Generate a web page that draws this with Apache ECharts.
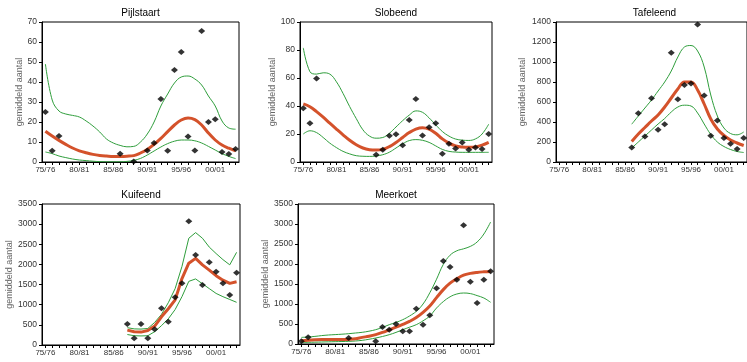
<!DOCTYPE html>
<html>
<head>
<meta charset="utf-8">
<script src="https://cdn.jsdelivr.net/npm/echarts@6/dist/echarts.min.js"></script>
<style>
html,body{margin:0;padding:0;background:#fff;}
#c{width:747px;height:362px;}
</style>
</head>
<body>
<div id="c"></div>
<script>
// ---- categories (winter seasons) ----
const seasons = ['75/76','76/77','77/78','78/79','79/80','80/81','81/82','82/83','83/84','84/85',
  '85/86','86/87','87/88','88/89','89/90','90/91','91/92','92/93','93/94','94/95',
  '95/96','96/97','97/98','98/99','99/00','00/01','01/02','02/03','03/04'];

// ---- Pijlstaart ----
const pijlObs   = [25,5.6,13,null,null,null,null,null,null,null,null,4.1,null,0.3,null,5.8,9.5,31.5,5.6,46,55,12.8,5.8,65.5,20,21.4,5,4,6.5];
const pijlTrend = [15.4,13,10.8,8.8,7,5.6,4.6,3.8,3.3,3,2.8,2.8,2.9,3.2,4.5,6.3,8.8,11.8,15.2,18.5,21,22,21.2,18.5,14.5,11,8.5,6.9,5.6];
const pijlUpper = [49,31,25.5,24,23.3,22.5,20.5,18,15,11.5,9.5,8.3,7.6,7.8,10,14,20,28,34,39.5,42.5,43,41.5,38.5,33,28,20.5,17,16.4];
const pijlLower = [5,4.2,3,2.2,1.5,1,0.7,0.4,0.2,0.1,0.1,0.1,0.3,0.8,1.8,3.5,5.5,7.5,9.2,10.4,11,11,10.6,9.5,7.8,6,4.2,2.8,1.7];

// ---- Slobeend ----
const slobObs   = [38.4,27.7,59.7,null,null,null,null,null,null,null,null,5.2,8.8,18.7,19.9,12,30,45,19,24.9,27.7,5.9,13,9.7,14,8.8,10.4,9.2,20];
const slobTrend = [41.5,39.5,36,32,27.7,23.5,19.4,15.5,12.3,10,8.8,8.5,9,11,14,17.5,21,23.5,24.5,23.5,20.5,16.5,13.5,11.5,10.7,10.5,10.8,12,14];
const slobUpper = [81.5,64.5,62.8,63.7,62.8,57.3,49,39.6,31,23,18.5,17,17.5,20.5,25,29.5,33.5,36.5,35.5,31.5,26.5,21.8,18.5,16.4,15.6,15.4,16.5,20,27];
const slobLower = [20,22.3,21,17.5,13.5,10.3,7.6,5.8,4.5,4.1,4,4.3,5.2,7,10,13,15.3,16,15.5,14,11.5,9,7.6,7.1,6.9,6.9,6.9,6.9,6.9];

// ---- Tafeleend ----
const N11 = [null,null,null,null,null,null,null,null,null,null,null];
const tafObs   = N11.concat([146,488,255,637,322,378,1092,627,770,786,1374,664,262,415,239,182,129,240]);
const tafTrend = N11.concat([205,280,345,410,470,550,640,730,800,800,720,580,430,330,265,220,190,165]);
const tafUpper = N11.concat([378,460,540,620,710,800,910,1050,1150,1165,1110,950,670,460,340,285,272,300]);
const tafLower = N11.concat([140,200,260,320,380,435,500,550,568,560,490,380,275,200,155,125,105,95]);

// ---- Kuifeend ----
const N12 = [null,null,null,null,null,null,null,null,null,null,null,null];
const kuifObs   = N12.concat([521,166,521,166,390,911,578,1184,1531,3070,2234,1489,2053,1819,1531,1241,1794]);
const kuifTrend = N12.concat([370,330,320,360,470,700,900,1120,1650,2030,2150,1990,1860,1720,1610,1530,1570]);
const kuifUpper = N12.concat([430,400,395,410,560,760,1050,1400,1950,2650,2790,2650,2430,2270,2120,1990,2300]);
const kuifLower = N12.concat([260,230,225,230,330,480,650,880,1200,1580,1640,1520,1400,1280,1200,1130,1060]);

// ---- Meerkoet ----
const meerObs   = [67,167,null,null,null,null,null,150,null,null,null,67,425,358,500,317,317,883,483,717,1392,2075,1925,1608,2967,1558,1025,1608,1817];
const meerTrend = [80,95,105,110,110,110,110,115,130,165,195,235,290,355,420,490,565,660,790,950,1160,1360,1520,1630,1720,1765,1790,1805,1815];
const meerUpper = [165,175,190,210,225,235,245,258,275,292,320,358,415,483,540,608,700,817,1000,1280,1620,1990,2220,2330,2380,2440,2550,2750,3050];
const meerLower = [40,43,46,50,54,58,62,67,75,92,118,150,188,233,290,358,420,483,580,700,900,1060,1180,1250,1275,1260,1210,1150,1042];

// ---- panel table ----
const panels = [
  {name:'Pijlstaart', obs:pijlObs, trend:pijlTrend, upper:pijlUpper, lower:pijlLower, max:70,   step:10,  left:42,  top:22,  width:197, height:140, gap:17, smooth:true},
  {name:'Slobeend',   obs:slobObs, trend:slobTrend, upper:slobUpper, lower:slobLower, max:100,  step:20,  left:300, top:22,  width:192, height:140, gap:23, smooth:true},
  {name:'Tafeleend',  obs:tafObs,  trend:tafTrend,  upper:tafUpper,  lower:tafLower,  max:1400, step:200, left:556, top:22,  width:197, height:140, gap:29, smooth:true},
  {name:'Kuifeend',   obs:kuifObs, trend:kuifTrend, upper:kuifUpper, lower:kuifLower, max:3500, step:500, left:42,  top:204, width:198, height:141, gap:27, smooth:false},
  {name:'Meerkoet',   obs:meerObs, trend:meerTrend, upper:meerUpper, lower:meerLower, max:3500, step:500, left:298, top:204, width:196, height:140, gap:28, smooth:true}
];

const FONT = 'Liberation Sans, Arial, sans-serif';
const RED = '#d4522b';
const GREEN = '#2f9e3c';

const grid = [], xAxis = [], yAxis = [], series = [], graphic = [];
panels.forEach((p, i) => {
  grid.push({left:p.left, top:p.top, width:p.width, height:p.height, show:true,
    borderColor:'#000', borderWidth:1, backgroundColor:'transparent'});
  xAxis.push({type:'category', gridIndex:i, data:seasons, boundaryGap:true,
    axisLine:{lineStyle:{color:'#000', width:1}},
    axisTick:{show:true, interval:0, alignWithLabel:true, length:3, lineStyle:{color:'#000'}},
    axisLabel:{interval:4, fontSize:8, color:'#333', margin:4, fontFamily:FONT},
    splitLine:{show:false}});
  yAxis.push({type:'value', gridIndex:i, min:0, max:p.max, interval:p.step,
    name:'gemiddeld aantal', nameLocation:'middle', nameGap:p.gap,
    nameTextStyle:{fontSize:9, color:'#666', fontFamily:FONT},
    axisLine:{show:true, lineStyle:{color:'#000', width:1}},
    axisTick:{show:true, length:3, lineStyle:{color:'#000'}},
    axisLabel:{fontSize:8.5, color:'#333', margin:5, fontFamily:FONT, formatter:function(v){return String(v);}},
    splitLine:{show:false}});
  const base = {xAxisIndex:i, yAxisIndex:i, symbol:'none', silent:true, animation:false, connectNulls:false};
  series.push(Object.assign({type:'line', data:p.upper, smooth:p.smooth ? 0.4 : false, lineStyle:{color:GREEN, width:1}}, base));
  series.push(Object.assign({type:'line', data:p.lower, smooth:p.smooth ? 0.4 : false, lineStyle:{color:GREEN, width:1}}, base));
  series.push(Object.assign({type:'line', data:p.trend, smooth:p.smooth ? 0.4 : false, lineStyle:{color:RED, width:3}}, base));
  series.push({type:'scatter', xAxisIndex:i, yAxisIndex:i, data:p.obs, symbol:'diamond', symbolSize:[7,6],
    itemStyle:{color:'#000'}, silent:true, animation:false, z:5});
  graphic.push({type:'text', x:p.left + p.width/2, y:p.top - 9,
    style:{text:p.name, fill:'#000', font:'10px ' + FONT, align:'center', verticalAlign:'middle',
      textAlign:'center', textVerticalAlign:'middle'}});
});

const chart = echarts.init(document.getElementById('c'), null, {renderer:'canvas'});
chart.setOption({animation:false, backgroundColor:'#fff', grid, xAxis, yAxis, series, graphic});
</script>
</body>
</html>
